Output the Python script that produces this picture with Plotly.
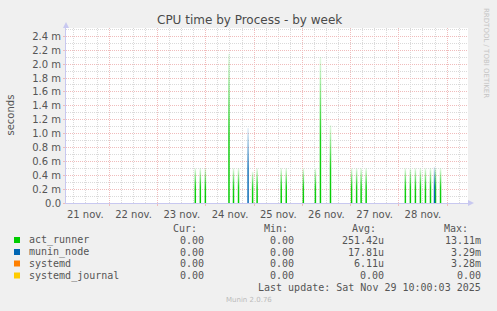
import plotly.graph_objects as go
import pandas as pd

# ---------------- data ----------------
act_runner_times = [
    "2025-11-23 18:45", "2025-11-23 21:15", "2025-11-23 23:45",
    "2025-11-24 11:30", "2025-11-24 13:45", "2025-11-24 16:15",
    "2025-11-24 23:15", "2025-11-25 01:30", "2025-11-25 13:30", "2025-11-25 16:00",
    "2025-11-26 00:30", "2025-11-26 06:30", "2025-11-26 09:00", "2025-11-26 14:00",
    "2025-11-27 00:30", "2025-11-27 03:00", "2025-11-27 05:15", "2025-11-27 07:45",
    "2025-11-28 03:15", "2025-11-28 05:45", "2025-11-28 08:15", "2025-11-28 10:45",
    "2025-11-28 13:15", "2025-11-28 15:45", "2025-11-28 18:15", "2025-11-28 20:45",
]
act_runner_vals = [
    0.00050, 0.00050, 0.00050,
    0.00215, 0.00050, 0.00050,
    0.00045, 0.00050, 0.00050, 0.00050,
    0.00050, 0.00050, 0.00210, 0.00112,
    0.00050, 0.00050, 0.00050, 0.00050,
    0.00050, 0.00050, 0.00050, 0.00050,
    0.00050, 0.00050, 0.00050, 0.00050,
]
munin_node_times = ["2025-11-24 21:00", "2025-11-28 17:45"]
munin_node_vals = [0.00108, 0.00052]
systemd_times = []
systemd_vals = []
systemd_journal_times = []
systemd_journal_vals = []

series_names = ["act_runner", "munin_node", "systemd", "systemd_journal"]
series_colors = ["#00CC00", "#0066B3", "#FF8000", "#FFCC00"]
cur_vals = ["0.00", "0.00", "0.00", "0.00"]
min_vals = ["0.00", "0.00", "0.00", "0.00"]
avg_vals = ["251.42u", "17.81u", "6.11u", "0.00"]
max_vals = ["13.11m", "3.29m", "3.28m", "0.00"]

y_tick_vals = [0, 0.0002, 0.0004, 0.0006, 0.0008, 0.0010, 0.0012,
               0.0014, 0.0016, 0.0018, 0.0020, 0.0022, 0.0024]
y_tick_text = ["0.0", "0.2 m", "0.4 m", "0.6 m", "0.8 m", "1.0 m", "1.2 m",
               "1.4 m", "1.6 m", "1.8 m", "2.0 m", "2.2 m", "2.4 m"]

x_start = "2025-11-21 02:25"
x_end = "2025-11-29 10:25"
y_max = 0.00252

title_text = "CPU time by Process - by week"
last_update = "Last update: Sat Nov 29 10:00:03 2025"

# ---------------- layout geometry ----------------
W_FIG, H_FIG = 497, 311
L, R, T, B = 66, 29, 28, 108
PW = W_FIG - L - R
PH = H_FIG - T - B


def px(xp):
    return (xp - L) / PW


def py(yp):
    return (H_FIG - B - yp) / PH


fig = go.Figure()

half = pd.Timedelta(minutes=22)


def rgba(hexc, a):
    h = hexc.lstrip("#")
    return "rgba(%d,%d,%d,%s)" % (int(h[0:2], 16), int(h[2:4], 16), int(h[4:6], 16), a)


all_series = [
    (act_runner_times, act_runner_vals),
    (munin_node_times, munin_node_vals),
    (systemd_times, systemd_vals),
    (systemd_journal_times, systemd_journal_vals),
]

for (times, vals), name, col in zip(all_series, series_names, series_colors):
    for t, v in zip(times, vals):
        tc = pd.Timestamp(t)
        xs = [tc - half, tc - half, tc + half, tc + half]
        ys = [0, v, v, 0]
        fig.add_trace(go.Scatter(
            x=xs, y=ys, mode="lines", line=dict(width=0, color=col),
            fill="toself",
            fillgradient=dict(type="vertical",
                              colorscale=[[0, rgba(col, 1)], [0.45, rgba(col, 0.9)],
                                          [1, rgba(col, 0.1)]]),
            name=name, showlegend=False, hoverinfo="skip",
        ))

red_grid = "#F0BCBC"
gray_grid = "#DADADA"
axis_col = "#C8C8F0"
text_col = "#555555"
dash = "1px,1px"

fig.update_layout(
    width=W_FIG, height=H_FIG,
    margin=dict(l=L, r=R, t=T, b=B, pad=0),
    paper_bgcolor="#F0F0F0",
    plot_bgcolor="#FFFFFF",
    font=dict(family="DejaVu Sans", size=10, color=text_col),
    showlegend=False,
)

fig.update_xaxes(
    type="date",
    range=[x_start, x_end],
    tick0="2025-11-21 00:00", dtick=86400000,
    ticklabelmode="period",
    tickformat="%d nov.",
    ticks="outside", ticklen=2, tickcolor=red_grid,
    showgrid=True, gridcolor=red_grid, griddash=dash, gridwidth=1,
    minor=dict(dtick=6 * 3600000, showgrid=True, gridcolor=gray_grid,
               griddash=dash, ticks=""),
    showline=True, linecolor=axis_col, linewidth=1,
    zeroline=False,
    tickfont=dict(size=10, color=text_col),
    fixedrange=True,
)

fig.update_yaxes(
    range=[0, y_max],
    tickmode="array", tickvals=y_tick_vals, ticktext=y_tick_text,
    ticks="outside", ticklen=2, tickcolor=red_grid,
    showgrid=True, gridcolor=red_grid, griddash=dash, gridwidth=1,
    minor=dict(dtick=0.0001, tick0=0.0001, showgrid=True, gridcolor=gray_grid,
               griddash=dash, ticks=""),
    showline=True, linecolor=axis_col, linewidth=1,
    zeroline=False,
    tickfont=dict(size=10, color=text_col),
    fixedrange=True,
)

shapes = []
# axis arrows
shapes.append(dict(type="path", xref="paper", yref="paper",
                   path="M %f %f L %f %f L %f %f Z" % (px(63), py(28), px(69), py(28), px(66), py(22)),
                   fillcolor=axis_col, line=dict(width=0)))
shapes.append(dict(type="path", xref="paper", yref="paper",
                   path="M %f %f L %f %f L %f %f Z" % (px(468), py(200), px(468), py(206), px(474), py(203)),
                   fillcolor=axis_col, line=dict(width=0)))

annotations = []
annotations.append(dict(text=title_text, xref="paper", yref="paper",
                        x=px(249), y=py(19.5), xanchor="center", yanchor="middle",
                        showarrow=False, font=dict(size=12, color="#4A4A4A")))
annotations.append(dict(text="seconds", xref="paper", yref="paper",
                        x=px(10), y=py(115.5), xanchor="center", yanchor="middle",
                        textangle=-90, showarrow=False, font=dict(size=10, color=text_col)))
annotations.append(dict(text="RRDTOOL / TOBI OETIKER", xref="paper", yref="paper",
                        x=px(486), y=py(53), xanchor="center", yanchor="middle",
                        textangle=90, showarrow=False, font=dict(size=7, color="#C4C4C4")))
annotations.append(dict(text="Munin 2.0.76", xref="paper", yref="paper",
                        x=px(249), y=py(300), xanchor="center", yanchor="middle",
                        showarrow=False, font=dict(size=7, color="#BBBBBB")))

mono = dict(family="DejaVu Sans Mono", size=10, color=text_col)
headers = [("Cur:", 199), ("Min:", 290), ("Avg:", 378), ("Max:", 470)]
for h, xr in headers:
    annotations.append(dict(text=h, xref="paper", yref="paper", x=px(xr), y=py(228),
                            xanchor="right", yanchor="middle", showarrow=False, font=mono))

row_y = [240, 252, 263.5, 275.5]
for i, name in enumerate(series_names):
    yy = row_y[i]
    shapes.append(dict(type="rect", xref="paper", yref="paper",
                       x0=px(14), x1=px(20), y0=py(yy - 3), y1=py(yy + 3),
                       fillcolor=series_colors[i], line=dict(width=0)))
    annotations.append(dict(text=name, xref="paper", yref="paper", x=px(26.5), y=py(yy),
                            xanchor="left", yanchor="middle", showarrow=False, font=mono))
    for val, xr in [(cur_vals[i], 206), (min_vals[i], 296), (avg_vals[i], 386), (max_vals[i], 482.5)]:
        annotations.append(dict(text=val, xref="paper", yref="paper", x=px(xr), y=py(yy),
                                xanchor="right", yanchor="middle", showarrow=False, font=mono))

annotations.append(dict(text=last_update, xref="paper", yref="paper", x=px(482.5), y=py(287.5),
                        xanchor="right", yanchor="middle", showarrow=False, font=mono))

fig.update_layout(shapes=shapes, annotations=annotations)

fig.write_html("out.html", config={"displayModeBar": False})
